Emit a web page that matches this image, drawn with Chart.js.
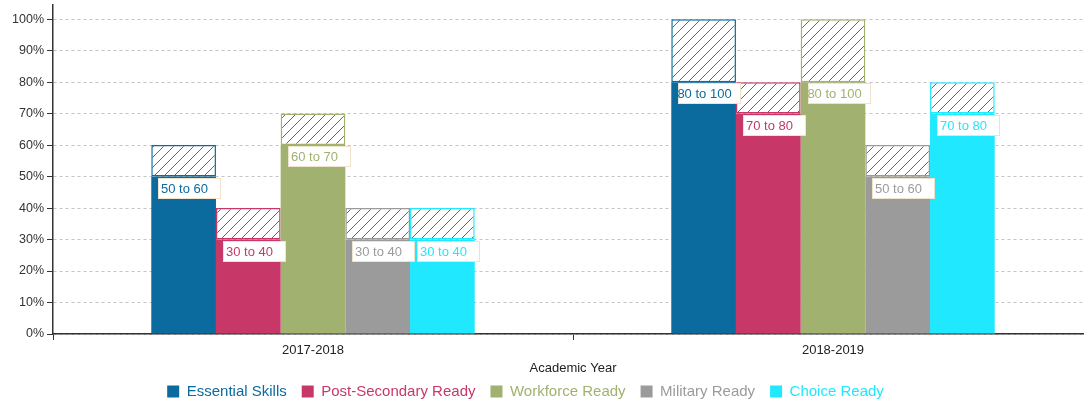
<!DOCTYPE html>
<html>
<head>
<meta charset="utf-8">
<script src="https://cdn.jsdelivr.net/npm/chart.js@4.4.1/dist/chart.umd.min.js"></script>
<style>
  html, body { margin: 0; padding: 0; background: #fff; overflow: hidden; }
  #wrap { width: 1093px; height: 404px; position: relative; }
</style>
</head>
<body>
<div id="wrap"><canvas id="c"></canvas></div>
<script>
const categories = ['2017-2018', '2018-2019'];
const seriesNames = ['Essential Skills', 'Post-Secondary Ready', 'Workforce Ready', 'Military Ready', 'Choice Ready'];
const seriesColors = ['#0b6a9e', '#c73868', '#a1b170', '#9b9b9b', '#1fe8ff'];
const essentialLow = [50, 80], essentialHigh = [60, 100];
const postSecLow = [30, 70], postSecHigh = [40, 80];
const workforceLow = [60, 80], workforceHigh = [70, 100];
const militaryLow = [30, 50], militaryHigh = [40, 60];
const choiceLow = [30, 70], choiceHigh = [40, 80];
const yTicks = [0, 10, 20, 30, 40, 50, 60, 70, 80, 90, 100];

const lows = [essentialLow, postSecLow, workforceLow, militaryLow, choiceLow];
const highs = [essentialHigh, postSecHigh, workforceHigh, militaryHigh, choiceHigh];

const FONT = "'Liberation Sans', Arial, sans-serif";

function hatchPattern() {
  const p = document.createElement('canvas');
  p.width = 10; p.height = 10;
  const g = p.getContext('2d');
  g.fillStyle = '#fff';
  g.fillRect(0, 0, 10, 10);
  g.strokeStyle = '#666';
  g.lineWidth = 1;
  g.beginPath();
  g.moveTo(0, 10); g.lineTo(10, 0);
  g.moveTo(-1, 1); g.lineTo(1, -1);
  g.moveTo(9, 11); g.lineTo(11, 9);
  g.stroke();
  return g.createPattern(p, 'repeat');
}
const hatch = hatchPattern();

const datasets = [];
seriesNames.forEach((name, i) => {
  datasets.push({
    label: name,
    data: lows[i],
    backgroundColor: seriesColors[i],
    borderColor: seriesColors[i],
    borderWidth: 0,
    stack: 's' + i
  });
});
seriesNames.forEach((name, i) => {
  datasets.push({
    label: name + ' range',
    data: lows[i].map((v, k) => [v, highs[i][k]]),
    backgroundColor: hatch,
    borderColor: seriesColors[i],
    borderWidth: 1.5,
    borderSkipped: false,
    stack: 's' + i
  });
});

const labelPlugin = {
  id: 'rangeLabels',
  afterDatasetsDraw(chart) {
    const ctx = chart.ctx;
    ctx.save();
    ctx.font = '13px ' + FONT;
    ctx.textBaseline = 'middle';
    ctx.textAlign = 'center';
    for (let i = 0; i < seriesNames.length; i++) {
      const meta = chart.getDatasetMeta(i);
      meta.data.forEach((bar, k) => {
        const left = bar.x - bar.width / 2;
        const top = bar.y;
        const bx = Math.round(left + 7) + 0.5, by = Math.round(top + 1) + 0.5;
        const w = 62, h = 20;
        ctx.fillStyle = '#fff';
        ctx.fillRect(bx, by, w, h);
        ctx.strokeStyle = '#f1e2cc';
        ctx.lineWidth = 1;
        ctx.strokeRect(bx, by, w, h);
        ctx.fillStyle = seriesColors[i];
        ctx.fillText(lows[i][k] + ' to ' + highs[i][k], bx + 26, by + h / 2 + 0.5);
      });
    }
    ctx.restore();
  }
};

const legendShift = {
  id: 'legendShift',
  beforeLayout(chart) {
    const lg = chart.legend;
    if (lg && !lg._patched) {
      const orig = lg.fit;
      lg.fit = function () { orig.call(this); this.height = 28; };
      lg._patched = true;
    }
  },
  afterLayout(chart) {
    const lg = chart.legend;
    if (lg) {
      lg.left -= 21; lg.right -= 21;
      lg.top = 369; lg.bottom = 404;
      lg.height = 35;
    }
  }
};

new Chart(document.getElementById('c'), {
  type: 'bar',
  data: { labels: categories, datasets },
  plugins: [labelPlugin, legendShift],
  options: {
    responsive: true,
    maintainAspectRatio: false,
    animation: false,
    layout: { padding: { top: 5, left: 0, right: 0, bottom: 0 } },
    datasets: { bar: { categoryPercentage: 0.622, barPercentage: 1 } },
    plugins: {
      tooltip: { enabled: false },
      legend: {
        position: 'bottom',
        labels: {
          font: { family: FONT, size: 15 },
          boxWidth: 12,
          boxHeight: 12,
          padding: 15,
          generateLabels(chart) {
            const items = Chart.defaults.plugins.legend.labels.generateLabels(chart);
            return items.filter(it => it.datasetIndex < seriesNames.length).map(it => {
              it.fontColor = seriesColors[it.datasetIndex];
              it.lineWidth = 0;
              return it;
            });
          }
        },
        onClick: null
      }
    },
    scales: {
      x: {
        stacked: true,
        afterFit(scale) { scale.height = 42; },
        grid: { display: true, drawOnChartArea: false, drawTicks: true, tickLength: 6, color: '#333', offset: true },
        border: { display: true, color: '#333', width: 1.5 },
        ticks: { color: '#222', font: { family: FONT, size: 13 }, padding: 3 },
        title: { display: true, text: 'Academic Year', color: '#222', font: { family: FONT, size: 13 }, padding: { top: 2, bottom: 0 } }
      },
      y: {
        stacked: false,
        min: 0,
        max: 104.5,
        afterBuildTicks(scale) { scale.ticks = yTicks.map(v => ({ value: v })); },
        afterFit(scale) { scale.width = 53; scale.paddingTop = 0; scale.paddingBottom = 0; },
        grid: {
          color: '#c4c4c4',
          tickColor: '#333',
          tickLength: 6,
          drawTicks: true
        },
        border: { display: true, color: '#333', width: 1.5, dash: [3, 3] },
        ticks: {
          color: '#333',
          font: { family: FONT, size: 12.5 },
          padding: 3,
          callback: v => v + '%'
        }
      }
    }
  }
});
</script>
</body>
</html>
